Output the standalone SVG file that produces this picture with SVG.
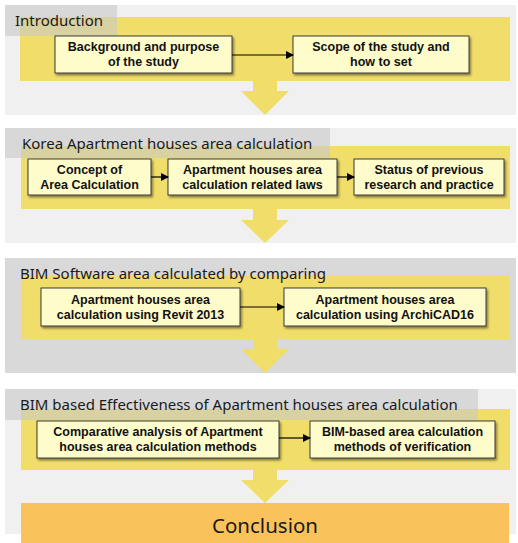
<svg xmlns="http://www.w3.org/2000/svg" width="518" height="543" viewBox="0 0 518 543">
<style>
.panel{fill:#f0f0f0}
.panel2{fill:#d9d9d9}
.tab{fill:#c8c8c8;fill-opacity:0.6}
.band{fill:#f1de6a}
.box{fill:#fffccc;stroke:#3a3a3a;stroke-width:1;filter:url(#sh)}
.bt{font-family:"Liberation Sans",Arial,sans-serif;font-weight:bold;font-size:12.5px;fill:#111;text-anchor:middle}
.tt{font-family:"Noto Sans","Open Sans",sans-serif;font-size:15px;fill:#1a1a1a}
.conn{stroke:#000;stroke-width:1.2;fill:none;marker-end:url(#ah)}
.down{fill:#f1de6a}
</style>
<defs>
<marker id="ah" markerWidth="8" markerHeight="8" refX="7" refY="4" orient="auto" markerUnits="userSpaceOnUse">
<path d="M0,0 L8,4 L0,8 z" fill="#000"/>
</marker>
<filter id="sh" x="-10%" y="-20%" width="125%" height="150%">
<feDropShadow dx="1.5" dy="2" stdDeviation="1.2" flood-color="#000" flood-opacity="0.45"/>
</filter>
</defs>
<g id="section1">
<rect class="panel" x="5" y="5" width="511" height="110"/>
<rect class="band" x="20" y="17" width="490" height="64"/>
<rect class="tab" x="5" y="5" width="112" height="31"/>
<text class="tt" x="15" y="26">Introduction</text>
<path class="down" d="M253,81 H277 V91 H289 L265,115 L241,91 H253 Z"/>
</g>
<g id="section2">
<rect class="panel" x="5" y="128" width="511" height="115"/>
<rect class="band" x="21" y="146" width="489" height="63"/>
<rect class="tab" x="5" y="128" width="325" height="30"/>
<text class="tt" x="22" y="149">Korea Apartment houses area calculation</text>
<path class="down" d="M253,209 H277 V220 H289 L265,243 L241,220 H253 Z"/>
</g>
<g id="section3">
<rect class="panel2" x="5" y="258" width="511" height="115"/>
<rect class="band" x="21" y="275" width="489" height="64"/>
<text class="tt" x="20" y="279">BIM Software area calculated by comparing</text>
<path class="down" d="M253,339 H277 V349 H289 L265,373 L241,349 H253 Z"/>
</g>
<g id="section4">
<rect class="panel" x="5" y="389" width="511" height="145"/>
<rect class="band" x="21" y="409" width="489" height="61"/>
<rect class="tab" x="5" y="389" width="473" height="31"/>
<text class="tt" x="20" y="410">BIM based Effectiveness of Apartment houses area calculation</text>
<path class="down" d="M253,470 H277 V480 H289 L265,503 L241,480 H253 Z"/>
</g>
<g id="n1"><rect class="box" x="55" y="36" width="177" height="37"/><text class="bt" x="143.5" y="51">Background and purpose</text><text class="bt" x="143.5" y="66">of the study</text></g>
<g id="n2"><rect class="box" x="293" y="36" width="176" height="37"/><text class="bt" x="381" y="51">Scope of the study and</text><text class="bt" x="381" y="66">how to set</text></g>
<g id="n3"><rect class="box" x="28" y="159" width="123" height="36"/><text class="bt" x="89.5" y="174">Concept of</text><text class="bt" x="89.5" y="189">Area Calculation</text></g>
<g id="n4"><rect class="box" x="168" y="159" width="169" height="36"/><text class="bt" x="252.5" y="174">Apartment houses area</text><text class="bt" x="252.5" y="189">calculation related laws</text></g>
<g id="n5"><rect class="box" x="354" y="159" width="150" height="36"/><text class="bt" x="429" y="174">Status of previous</text><text class="bt" x="429" y="189">research and practice</text></g>
<g id="n6"><rect class="box" x="41" y="288" width="199" height="38"/><text class="bt" x="140.5" y="304">Apartment houses area</text><text class="bt" x="140.5" y="319">calculation using Revit 2013</text></g>
<g id="n7"><rect class="box" x="284" y="288" width="202" height="38"/><text class="bt" x="385" y="304">Apartment houses area</text><text class="bt" x="385" y="319">calculation using ArchiCAD16</text></g>
<g id="n8"><rect class="box" x="37" y="421" width="242" height="37"/><text class="bt" x="158" y="436">Comparative analysis of Apartment</text><text class="bt" x="158" y="451">houses area calculation methods</text></g>
<g id="n9"><rect class="box" x="310" y="421" width="185" height="37"/><text class="bt" x="402.5" y="436">BIM-based area calculation</text><text class="bt" x="402.5" y="451">methods of verification</text></g>
<g id="conclusion"><rect x="21" y="503" width="488" height="40" fill="#f9c25a"/><text x="265" y="533" font-family="Noto Sans, Open Sans, sans-serif" font-size="20.5" fill="#1a1a1a" text-anchor="middle">Conclusion</text></g>
<g id="connectors">
<line class="conn" x1="232" y1="55" x2="293" y2="55"/>
<line class="conn" x1="151" y1="177" x2="168" y2="177"/>
<line class="conn" x1="337" y1="177" x2="354" y2="177"/>
<line class="conn" x1="240" y1="307" x2="284" y2="307"/>
<line class="conn" x1="279" y1="438" x2="310" y2="438"/>
</g>
</svg>
